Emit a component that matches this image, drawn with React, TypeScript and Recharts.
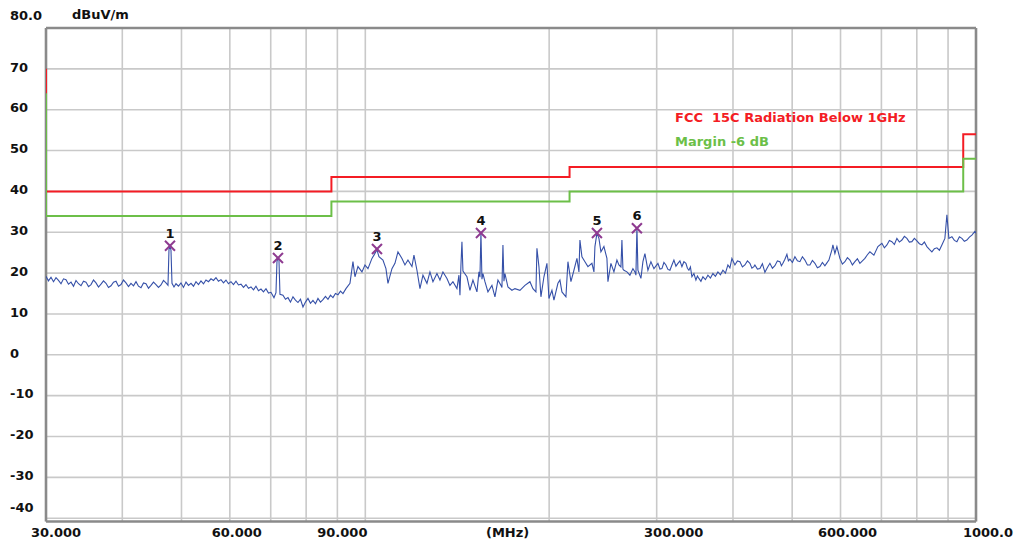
import React from 'react';
import { ComposedChart, Line, Scatter, XAxis, YAxis, CartesianGrid, ReferenceLine } from 'recharts';

const trace30to73: [number, number][] = [
  [30.0, 19.2], [30.284, 18.1], [30.571, 19.0], [30.861, 17.9], [31.153, 18.9], [31.448, 18.2], [31.746, 17.4], [32.047, 18.6],
  [32.35, 18.4], [32.656, 17.3], [32.966, 17.8], [33.278, 16.8], [33.593, 18.2], [33.911, 17.4], [34.232, 16.9], [34.556, 18.0],
  [34.883, 17.8], [35.213, 16.7], [35.547, 17.2], [35.884, 18.3], [36.224, 17.6], [36.567, 16.6], [36.913, 17.3], [37.263, 18.1],
  [37.615, 17.5], [37.971, 16.5], [38.331, 16.9], [38.694, 17.8], [39.061, 18.0], [39.431, 16.8], [39.804, 17.2], [40.181, 18.3],
  [40.561, 17.6], [40.945, 16.7], [41.333, 17.5], [41.724, 16.9], [42.12, 17.9], [42.519, 16.8], [42.921, 16.4], [43.327, 17.6],
  [43.738, 17.4], [44.152, 16.3], [44.57, 17.0], [44.992, 17.8], [45.418, 17.2], [45.848, 16.5], [46.282, 17.1], [46.72, 18.2],
  [47.163, 17.6], [47.52, 17.0], [47.7, 25.8], [47.88, 26.6], [48.06, 25.6], [48.242, 17.5], [48.608, 16.6], [48.975, 17.4],
  [49.439, 16.8], [49.907, 17.6], [50.38, 16.5], [50.857, 17.8], [51.339, 17.0], [51.825, 17.5], [52.316, 16.8], [52.811, 17.9],
  [53.311, 17.2], [53.816, 18.1], [54.326, 17.4], [54.84, 18.3], [55.359, 17.9], [55.883, 18.6], [56.412, 18.2], [56.946, 18.9],
  [57.485, 18.0], [58.03, 18.4], [58.579, 17.6], [59.134, 18.3], [59.694, 17.4], [60.259, 17.9], [60.83, 17.2], [61.406, 18.0],
  [61.987, 17.1], [62.575, 17.3], [63.168, 16.5], [63.765, 17.2], [64.369, 16.3], [64.979, 16.6], [65.594, 15.9], [66.215, 16.8],
  [66.842, 15.7], [67.475, 16.1], [68.114, 15.4], [68.759, 16.2], [69.41, 15.1], [70.067, 15.3], [70.864, 14.0], [71.4, 15.2],
  [71.67, 22.8], [71.94, 23.7], [72.212, 23.2], [72.485, 14.8],
];
const trace73to175: [number, number][] = [
  [73.31, 14.6], [74.004, 13.6], [74.704, 14.0], [75.41, 12.9], [76.126, 14.2], [76.85, 13.4], [77.575, 12.8], [78.31, 13.6],
  [79.051, 11.7], [79.8, 12.9], [80.555, 13.8], [81.32, 12.6], [82.088, 13.3], [82.87, 12.5], [83.649, 13.8], [84.44, 12.9],
  [85.241, 13.5], [86.05, 14.3], [86.864, 13.6], [87.69, 14.6], [88.516, 14.0], [89.36, 15.0], [90.201, 14.7], [91.06, 15.6],
  [91.917, 15.0], [92.962, 16.2], [94.375, 17.5], [95.448, 22.8], [96.171, 19.1], [97.265, 21.6], [98.743, 20.3], [99.866, 22.0],
  [101.002, 21.1], [102.536, 23.6], [103.312, 24.4], [104.487, 25.7], [105.278, 24.0], [106.878, 23.2], [108.093, 21.1], [108.911, 17.5],
  [110.566, 21.1], [111.824, 22.4], [113.096, 25.2], [114.814, 23.6], [116.121, 22.0], [117.441, 23.2], [119.226, 21.6], [120.128, 24.4],
  [121.494, 20.7], [122.877, 16.2], [124.274, 19.5], [126.162, 17.5], [127.597, 20.3], [129.049, 17.9], [131.009, 19.9], [132.5, 18.3],
  [134.007, 20.3], [136.042, 18.7], [137.59, 17.0], [139.155, 17.9], [141.269, 16.2], [142.338, 19.5], [142.876, 14.6], [143.415, 22.0],
  [143.957, 27.7], [144.501, 20.5], [146.696, 19.1], [148.365, 15.8], [150.052, 18.3], [152.332, 15.4], [153.486, 20.3], [154.066, 19.0],
  [154.647, 30.0], [155.231, 18.5], [155.818, 19.9], [156.997, 17.9], [158.783, 15.4], [161.196, 17.0], [163.03, 14.2], [164.884, 18.3],
  [166.759, 17.0], [167.389, 16.5], [168.021, 26.9], [168.656, 18.0], [169.294, 19.9], [171.218, 16.6], [173.819, 15.8],
];
const trace175to300: [number, number][] = [
  [175.797, 16.2], [179.142, 15.8], [182.551, 17.0], [186.025, 17.9], [188.141, 16.2], [190.28, 15.4], [190.999, 26.1], [192.445, 21.6],
  [193.901, 14.2], [196.107, 19.1], [198.338, 22.4], [199.839, 13.8], [202.112, 15.8], [203.642, 13.4], [206.735, 17.5], [208.301, 18.3],
  [209.877, 15.4], [213.066, 14.2], [214.679, 22.8], [217.12, 17.9], [219.59, 20.7], [222.088, 23.6], [223.769, 20.3], [224.615, 28.1],
  [226.314, 24.0], [228.889, 22.8], [231.491, 21.6], [235.009, 22.4], [236.788, 20.3], [237.682, 26.5], [239.48, 29.8], [241.293, 28.5],
  [243.119, 25.2], [245.885, 26.5], [248.681, 23.6], [249.62, 17.9], [252.46, 22.4], [255.332, 20.3], [258.236, 23.2], [260.191, 22.0],
  [262.159, 21.5], [263.149, 28.1], [264.144, 21.0], [265.142, 20.7], [268.157, 20.3], [271.208, 19.5], [274.293, 21.1], [276.37, 20.3],
  [277.412, 19.5], [278.46, 31.2], [279.512, 20.7], [282.691, 18.7], [284.831, 22.8], [286.988, 24.8], [290.251, 20.7], [293.552, 22.8],
  [296.892, 21.1],
];
const trace300to433: [number, number][] = [
  [301.403, 22.4], [303.69, 21.0], [305.982, 21.1], [308.3, 22.6], [310.63, 22.0], [312.98, 20.9], [315.351, 20.7], [317.74, 22.0],
  [320.142, 23.2], [322.57, 21.7], [325.007, 22.4], [327.47, 23.0], [329.945, 21.6], [332.44, 22.8], [334.958, 22.4], [336.86, 21.2],
  [338.769, 20.7], [340.69, 21.5], [342.622, 19.1], [345.22, 19.9], [347.827, 18.3], [349.8, 19.3], [351.784, 18.7], [354.45, 18.0],
  [357.129, 19.1], [360.51, 18.4], [363.924, 19.5], [367.38, 18.8], [370.849, 19.9], [374.36, 19.2], [377.906, 20.3], [381.49, 19.6],
  [385.097, 20.7], [388.75, 20.0], [392.425, 22.0], [395.4, 21.3], [398.388, 23.6], [402.921, 22.0], [406.74, 23.0], [410.588, 22.8],
  [414.47, 21.5], [418.401, 22.0], [422.37, 23.0], [426.363, 22.4], [429.59, 21.2], [432.841, 21.6],
];
const trace433to1000: [number, number][] = [
  [434.477, 22.0], [438.59, 21.0], [442.745, 21.1], [446.94, 22.3], [451.17, 20.2], [455.45, 21.4], [459.754, 22.4], [464.11, 21.2],
  [468.503, 21.8], [472.94, 23.0], [477.419, 22.8], [480.13, 21.8], [482.848, 22.4], [486.5, 23.4], [490.184, 24.6], [492.97, 23.0],
  [495.761, 23.4], [500.46, 22.6], [505.196, 24.0], [509.98, 23.0], [514.808, 22.8], [519.69, 24.0], [524.605, 23.2], [529.58, 22.0],
  [534.588, 22.0], [539.66, 23.1], [544.76, 22.4], [549.92, 21.3], [555.126, 21.6], [560.39, 22.6], [565.69, 21.8], [569.98, 22.5],
  [574.284, 23.2], [580.815, 25.7], [583.009, 26.9], [587.424, 24.8], [591.868, 26.5], [598.602, 23.6], [604.27, 22.2], [609.992, 22.8],
  [615.78, 23.8], [621.6, 23.2], [627.49, 22.0], [633.428, 22.8], [639.43, 23.5], [645.482, 22.4], [651.6, 23.0], [657.765, 23.6],
  [664.0, 24.5], [670.281, 25.2], [680.465, 24.4], [690.803, 26.5], [701.299, 27.3], [707.94, 26.2], [714.644, 26.9], [721.41, 28.0],
  [728.242, 27.7], [735.15, 27.0], [742.1, 28.5], [749.13, 27.6], [756.221, 28.1], [763.39, 29.0], [770.611, 28.5], [777.91, 27.6],
  [785.276, 27.7], [792.72, 28.5], [800.218, 27.9], [807.8, 27.2], [815.445, 26.9], [823.17, 27.6], [830.963, 26.5], [838.83, 25.8],
  [846.775, 25.2], [854.79, 26.0], [862.888, 26.2], [871.06, 25.6], [879.308, 26.9], [889.312, 28.5], [896.04, 34.3], [902.823, 28.5],
  [913.09, 28.9], [921.74, 28.0], [930.465, 27.7], [939.28, 28.9], [948.171, 28.5], [957.15, 27.8], [966.214, 28.1], [975.37, 28.8],
  [984.6, 29.3], [995.803, 30.2], [1000.0, 29.8],
];

// ---- limit lines ----
const limitFreq = [30, 30, 88, 88, 216, 216, 953, 953, 1000];
const limitLevel = [70, 40, 40, 43.5, 43.5, 46, 46, 54, 54];
const marginLevel = [64, 34, 34, 37.5, 37.5, 40, 40, 48, 48];

// ---- markers ----
const markerFreq = [47.88, 71.94, 104.49, 154.65, 239.48, 278.46];
const markerLevel = [26.7, 23.7, 25.9, 29.8, 29.8, 31.0];
const markerLabel = ['1', '2', '3', '4', '5', '6'];

// ---- axes ----
const gridFreq = [30, 40, 50, 60, 70, 80, 90, 100, 200, 300, 400, 500, 600, 700, 800, 900, 1000];
const xLabelFreq = [30, 60, 90, 171, 300, 600, 1000];
const xLabelText = ['30.000', '60.000', '90.000', '(MHz)', '300.000', '600.000', '1000.0'];
const yTicks = [-40, -30, -20, -10, 0, 10, 20, 30, 40, 50, 60, 70, 80];
const legendText = ['FCC  15C Radiation Below 1GHz', 'Margin -6 dB'];

const RED = '#f41c24';
const GREEN = '#6cbf48';
const BLUE = '#3550a8';
const PURPLE = '#8e3a90';
const FRAME = '#8a8a8a';
const FONT = '"DejaVu Sans", Arial, sans-serif';

const traceData = [...trace30to73, ...trace73to175, ...trace175to300, ...trace300to433, ...trace433to1000].map(([f, v]) => ({ f, v }));
const limitData = limitFreq.map((f, i) => ({ f, v: limitLevel[i] }));
const marginData = limitFreq.map((f, i) => ({ f, v: marginLevel[i] }));
const markerData = markerFreq.map((f, i) => ({ f, v: markerLevel[i], n: markerLabel[i] }));
const xTicks = [...gridFreq, 171].sort((a, b) => a - b);
const xLabelDx = [10, 7, 5, 0, 17, 7, 12];

const XTick = (props: any) => {
  const { x, y, payload } = props;
  const i = xLabelFreq.indexOf(payload.value);
  if (i < 0) return <g />;
  return (
    <text x={x + xLabelDx[i]} y={y + 7} textAnchor="middle" fontFamily={FONT} fontWeight="bold" fontSize={13} fill="#111">
      {xLabelText[i]}
    </text>
  );
};

const YTick = (props: any) => {
  const { y, payload } = props;
  const v = payload.value;
  let dy = 2.7;
  if (v === 80) dy = -8.3;
  if (v === -40) dy = -6.7;
  return (
    <text x={10} y={y + dy} textAnchor="start" fontFamily={FONT} fontWeight="bold" fontSize={13} fill="#111">
      {v === 80 ? '80.0' : String(v)}
    </text>
  );
};

const MarkerShape = (props: any) => {
  const { cx, cy, payload } = props;
  return (
    <g>
      <line x1={cx - 5} y1={cy - 5} x2={cx + 5} y2={cy + 5} stroke={PURPLE} strokeWidth={2} />
      <line x1={cx - 5} y1={cy + 5} x2={cx + 5} y2={cy - 5} stroke={PURPLE} strokeWidth={2} />
      <text x={cx} y={cy - 8} textAnchor="middle" fontFamily={FONT} fontWeight="bold" fontSize={13} fill="#111">
        {payload.n}
      </text>
    </g>
  );
};

export default function App() {
  return (
    <div style={{ position: 'absolute', left: 0, top: 0, width: 1017, height: 545, background: '#fff' }}>
      <ComposedChart width={1017} height={545} margin={{ top: 28, right: 41, bottom: 0, left: 0 }}>
        <CartesianGrid stroke="#c9c9c9" strokeWidth={1.6} verticalValues={gridFreq} horizontalValues={yTicks} />
        <XAxis
          dataKey="f"
          type="number"
          scale="log"
          domain={[30, 1000]}
          allowDataOverflow
          ticks={xTicks}
          interval={0}
          height={23.5}
          axisLine={false}
          tickLine={false}
          tick={<XTick />}
        />
        <YAxis
          type="number"
          domain={[-40.8, 80]}
          allowDataOverflow
          ticks={yTicks}
          interval={0}
          width={46}
          axisLine={false}
          tickLine={false}
          tick={<YTick />}
        />
        <ReferenceLine y={80} stroke={FRAME} strokeWidth={2.6} />
        <ReferenceLine y={-40.8} stroke={FRAME} strokeWidth={2.6} />
        <ReferenceLine x={30} stroke={FRAME} strokeWidth={2.6} />
        <ReferenceLine x={1000} stroke={FRAME} strokeWidth={2.6} />
        <Line data={traceData} dataKey="v" stroke={BLUE} strokeWidth={1.1} dot={false} isAnimationActive={false} />
        <Line data={limitData} dataKey="v" stroke={RED} strokeWidth={2} dot={false} isAnimationActive={false} />
        <Line data={marginData} dataKey="v" stroke={GREEN} strokeWidth={2} dot={false} isAnimationActive={false} />
        <Scatter data={markerData} dataKey="v" shape={<MarkerShape />} isAnimationActive={false} />
      </ComposedChart>
      <svg width={1017} height={545} style={{ position: 'absolute', left: 0, top: 0, pointerEvents: 'none' }}>
        <text x={72} y={19.2} fontFamily={FONT} fontWeight="bold" fontSize={13} fill="#111">dBuV/m</text>
        <text x={675} y={122.4} fontFamily={FONT} fontWeight="bold" fontSize={13} fill={RED} style={{ whiteSpace: 'pre' }}>{legendText[0]}</text>
        <text x={675} y={146.4} fontFamily={FONT} fontWeight="bold" fontSize={13} fill={GREEN}>{legendText[1]}</text>
      </svg>
    </div>
  );
}
